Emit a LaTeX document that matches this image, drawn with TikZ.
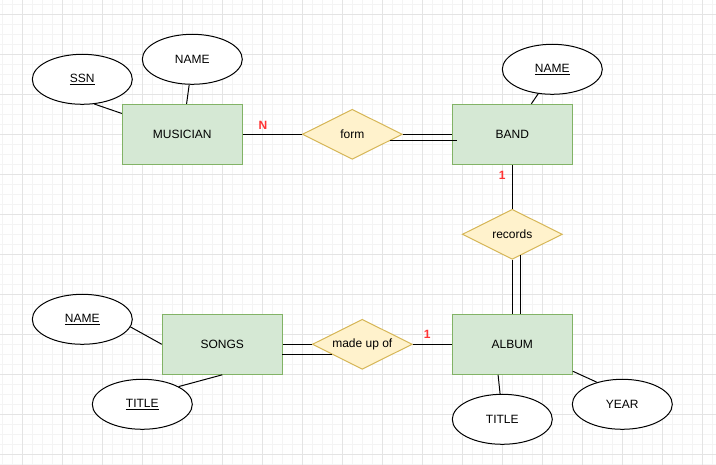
\documentclass[tikz,border=0pt]{standalone}
\usepackage{fontspec}
\setmainfont{Liberation Sans}
\usetikzlibrary{shapes.geometric}
\definecolor{entfill}{HTML}{D5E8D4}
\definecolor{entdraw}{HTML}{82B366}
\definecolor{relfill}{HTML}{FFF2CC}
\definecolor{reldraw}{HTML}{D6B656}
\definecolor{gridminor}{HTML}{F4F4F4}
\definecolor{gridmajor}{HTML}{E4E4E4}
\definecolor{cardred}{HTML}{FF3333}
\tikzset{
  entity/.style={rectangle, draw=entdraw, fill=entfill, line width=1pt, minimum width=120pt, minimum height=60pt, inner sep=0pt, font=\fontsize{12}{14}\selectfont},
  rel/.style={diamond, aspect=2, draw=reldraw, fill=relfill, line width=1pt, minimum width=100pt, minimum height=50pt, inner sep=0pt, font=\fontsize{12}{14}\selectfont},
  attr/.style={ellipse, draw=black, fill=white, line width=1pt, minimum width=100pt, minimum height=50pt, inner sep=0pt, font=\fontsize{12}{14}\selectfont},
  card/.style={text=cardred, font=\fontsize{12}{14}\selectfont\bfseries, inner sep=0pt},
  conn/.style={draw=black, line width=1pt},
}
\begin{document}
\begin{tikzpicture}[x=1pt,y=-1pt]
\useasboundingbox (0,0) rectangle (716,465);
\fill[white] (0,0) rectangle (716,465);
% grid
\foreach \gx in {2.3,12.3,...,716} \draw[gridminor, line width=0.8pt] (\gx,0) -- (\gx,465);
\foreach \gy in {4.3,14.3,...,465} \draw[gridminor, line width=0.8pt] (0,\gy) -- (716,\gy);
\foreach \gx in {22.3,62.3,...,716} \draw[gridmajor, line width=0.8pt] (\gx,0) -- (\gx,465);
\foreach \gy in {14.3,54.3,...,465} \draw[gridmajor, line width=0.8pt] (0,\gy) -- (716,\gy);

% entities
\node[entity] (mus) at (182.3,134.3) {MUSICIAN};
\node[entity] (band) at (512.3,134.3) {BAND};
\node[entity] (songs) at (222.3,344.3) {SONGS};
\node[entity] (album) at (512.3,344.3) {ALBUM};

% relationships
\node[rel] (form) at (352.3,134.3) {form};
\node[rel] (records) at (512.3,234.3) {records};
\node[rel] (madeup) at (362.3,344.3) {made up of};

% attributes
\node[attr] (ssn) at (82.3,79.3) {\underline{SSN}};
\node[attr] (mname) at (192.3,59.3) {NAME};
\node[attr] (bname) at (552.3,69.3) {\underline{NAME}};
\node[attr] (sname) at (82.3,319.3) {\underline{NAME}};
\node[attr] (stitle) at (142.3,404.3) {\underline{TITLE}};
\node[attr] (atitle) at (502.3,419.3) {TITLE};
\node[attr] (year) at (622.3,404.3) {YEAR};

% attribute connectors
\draw[conn] (ssn.-64) -- (mus.161.6);
\draw[conn] (mname.-97.5) -- (mus.82.4);
\draw[conn] (bname.-120.3) -- (band.58.1);
\draw[conn] (sname.-9.2) -- (songs.west);
\draw[conn] (stitle.26.5) -- (songs.south);
\draw[conn] (atitle.95) -- (album.-115.95);
\draw[conn] (year.139.2) -- (album.-24.8);

% relationship connectors
\draw[conn] (mus.east) -- (form.west);
\draw[conn] (form.east) -- (band.west);
\coordinate (f2a) at (389.5,141);
\coordinate (f2b) at (456.7,141);
\draw[conn] (f2a) -- (f2b);

\draw[conn] (band.south) -- (records.north);
\draw[conn] (records.south) -- (album.north);
\coordinate (r2a) at (520.3,255.3);
\coordinate (r2b) at (520.3,314.3);
\draw[conn] (r2a) -- (r2b);

\draw[conn] (madeup.east) -- (album.west);
\draw[conn] (songs.east) -- (madeup.west);
\coordinate (m2a) at (282.3,354.3);
\coordinate (m2b) at (332.3,354.3);
\draw[conn] (m2a) -- (m2b);

% cardinalities
\node[card] (cn) at (263,125) {N};
\node[card] (c1b) at (502.3,175) {1};
\node[card] (c1a) at (427.3,334.7) {1};
\end{tikzpicture}
\end{document}
